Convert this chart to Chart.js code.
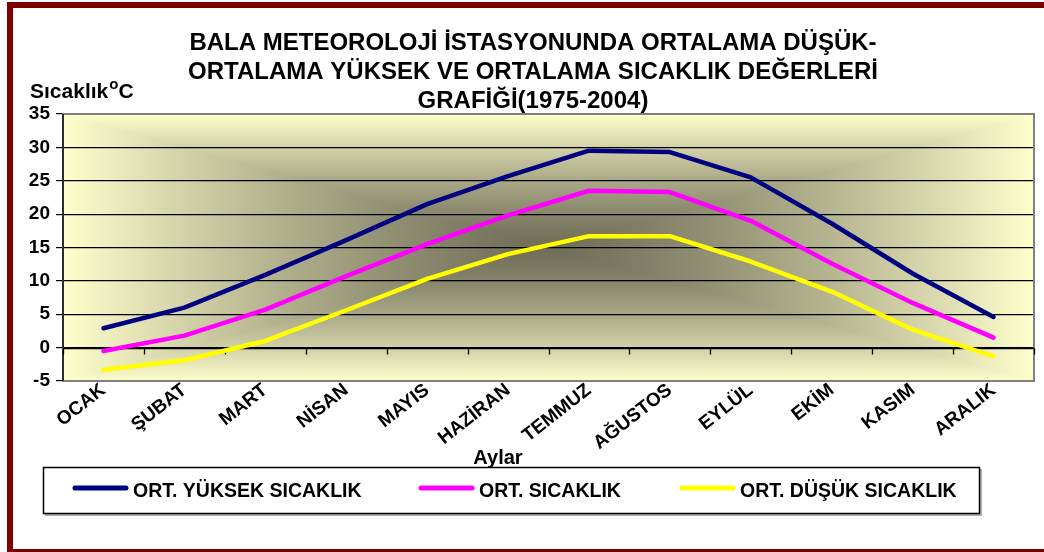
<!DOCTYPE html>
<html lang="tr">
<head>
<meta charset="utf-8">
<title>Bala Meteoroloji İstasyonu Sıcaklık Grafiği</title>
<script src="https://cdn.jsdelivr.net/npm/chart.js@4.4.0/dist/chart.umd.min.js"></script>
<style>
    body { margin: 0; background: #fff; }
    #wrap { position: relative; width: 1044px; height: 552px; overflow: hidden; background: #fff; }
    #frame { position: absolute; left: 7px; top: 2px; width: 1060px; height: 541px; border: 6px solid #800000; pointer-events: none; }
    canvas { position: absolute; left: 0; top: 0; }
</style>
</head>
<body>
<div id="wrap">
    <canvas id="tempChart" width="1044" height="552"></canvas>
    <div id="frame"></div>
</div>
<script>
// Months (x axis)
const months = ['OCAK', 'ŞUBAT', 'MART', 'NİSAN', 'MAYIS', 'HAZİRAN', 'TEMMUZ', 'AĞUSTOS', 'EYLÜL', 'EKİM', 'KASIM', 'ARALIK'];

// Monthly temperatures, °C
const avgHigh = [2.9, 6.0, 10.9, 16.1, 21.5, 25.7, 29.5, 29.3, 25.5, 18.6, 11.1, 4.6];
const avgTemp = [-0.5, 1.8, 5.7, 10.7, 15.5, 19.8, 23.5, 23.3, 19.0, 12.6, 6.7, 1.5];
const avgLow = [-3.3, -1.9, 1.0, 5.6, 10.3, 14.0, 16.7, 16.7, 12.9, 8.4, 2.7, -1.3];

const seriesNames = ['ORT. YÜKSEK SICAKLIK', 'ORT. SICAKLIK', 'ORT. DÜŞÜK SICAKLIK'];
const seriesColors = ['#000080', '#FF00FF', '#FFFF00'];

// Y axis
const yMin = -5;
const yMax = 35;
const yStep = 5;

const titleLines = [
    'BALA METEOROLOJİ İSTASYONUNDA ORTALAMA DÜŞÜK-',
    'ORTALAMA YÜKSEK VE ORTALAMA SICAKLIK DEĞERLERİ',
    'GRAFİĞİ(1975-2004)'
];
const yTitle = 'Sıcaklık';
const xTitle = 'Aylar';

const FONT = '"Liberation Sans", Arial, sans-serif';

// Excel style "from center" gradient behind the plot
const plotBackground = {
    id: 'plotBackground',
    beforeDraw(chart) {
        const { ctx, chartArea: a } = chart;
        const w = Math.round(a.right - a.left);
        const h = Math.round(a.bottom - a.top);
        const off = document.createElement('canvas');
        off.width = w;
        off.height = h;
        const octx = off.getContext('2d');
        const img = octx.createImageData(w, h);
        const dark = [112, 110, 88];
        const light = [255, 255, 204];
        for (let y = 0; y < h; y++) {
            for (let x = 0; x < w; x++) {
                const d = Math.max(Math.abs(x - w / 2) / (w / 2), Math.abs(y - h / 2) / (h / 2));
                const t = Math.pow(d, 1.3);
                const i = (y * w + x) * 4;
                for (let c = 0; c < 3; c++) {
                    img.data[i + c] = dark[c] + (light[c] - dark[c]) * t;
                }
                img.data[i + 3] = 255;
            }
        }
        octx.putImageData(img, 0, 0);
        ctx.drawImage(off, a.left, a.top);
    }
};

// Plot border, zero line with its tick marks
const plotFrame = {
    id: 'plotFrame',
    beforeDatasetsDraw(chart) {
        const { ctx, chartArea: a, scales: { x, y } } = chart;
        ctx.save();
        ctx.strokeStyle = '#808080';
        ctx.lineWidth = 2;
        ctx.strokeRect(a.left, a.top, a.right - a.left, a.bottom - a.top);

        const y0 = Math.round(y.getPixelForValue(0)) + 0.5;
        ctx.strokeStyle = '#000';
        ctx.lineWidth = 1.3;
        ctx.beginPath();
        ctx.moveTo(a.left, y0);
        ctx.lineTo(a.right, y0);
        for (let i = 0; i <= months.length; i++) {
            const px = Math.round(x.getPixelForValue(i - 0.5)) + 0.5;
            ctx.moveTo(px, y0);
            ctx.lineTo(px, y0 + 6);
        }
        ctx.moveTo(a.left, a.top);
        ctx.lineTo(a.left, a.bottom);
        ctx.stroke();
        ctx.restore();
    }
};

// Title, axis titles and the boxed legend
const chartTexts = {
    id: 'chartTexts',
    afterDraw(chart) {
        const { ctx } = chart;
        ctx.save();
        ctx.fillStyle = '#000';
        ctx.textBaseline = 'alphabetic';

        // title
        ctx.font = 'bold 24px ' + FONT;
        ctx.textAlign = 'center';
        titleLines.forEach((line, i) => ctx.fillText(line, 533, 50 + i * 29));

        // y title with superscript degree sign
        ctx.textAlign = 'left';
        ctx.font = 'bold 21px ' + FONT;
        ctx.fillText(yTitle, 30, 98);
        let tx = 30 + ctx.measureText(yTitle).width + 1;
        ctx.font = 'bold 15px ' + FONT;
        ctx.fillText('o', tx, 89);
        tx += ctx.measureText('o').width;
        ctx.font = 'bold 21px ' + FONT;
        ctx.fillText('C', tx, 98);

        // x title
        ctx.textAlign = 'center';
        ctx.font = 'bold 20px ' + FONT;
        ctx.fillText(xTitle, 498, 464);

        // legend box
        ctx.fillStyle = '#b0b0b0';
        ctx.fillRect(45, 514, 937, 2);
        ctx.fillRect(980, 469, 2, 47);
        ctx.strokeStyle = '#000';
        ctx.lineWidth = 1.5;
        ctx.fillStyle = '#fff';
        ctx.fillRect(43.5, 467.5, 936, 46);
        ctx.strokeRect(43.5, 467.5, 936, 46);

        const itemX = [73, 419, 680];
        ctx.textAlign = 'left';
        ctx.font = 'bold 19.5px ' + FONT;
        chart.data.datasets.forEach((ds, i) => {
            ctx.strokeStyle = ds.borderColor;
            ctx.lineWidth = 5;
            ctx.lineCap = 'round';
            ctx.beginPath();
            ctx.moveTo(itemX[i] + 2, 488);
            ctx.lineTo(itemX[i] + 53, 488);
            ctx.stroke();
            ctx.fillStyle = '#000';
            ctx.fillText(ds.label, itemX[i] + 60, 497);
        });
        ctx.restore();
    }
};

const datasets = [avgHigh, avgTemp, avgLow].map((values, i) => ({
    label: seriesNames[i],
    data: values,
    borderColor: seriesColors[i],
    backgroundColor: seriesColors[i],
    borderWidth: 4.5,
    borderCapStyle: 'round',
    borderJoinStyle: 'round',
    pointRadius: 0,
    tension: 0,
    fill: false
}));

new Chart(document.getElementById('tempChart'), {
    type: 'line',
    data: { labels: months, datasets: datasets },
    plugins: [plotBackground, plotFrame, chartTexts],
    options: {
        responsive: false,
        animation: false,
        devicePixelRatio: 1,
        layout: { padding: { left: 0, top: 114, right: 10, bottom: 81 } },
        plugins: {
            legend: { display: false },
            title: { display: false },
            tooltip: { enabled: false }
        },
        scales: {
            x: {
                type: 'category',
                offset: true,
                afterFit: (scale) => { scale.height = 90; },
                grid: { display: false },
                border: { display: false },
                ticks: {
                    color: '#000',
                    font: { family: FONT, size: 19, weight: 'bold' },
                    minRotation: 38,
                    maxRotation: 38,
                    autoSkip: false,
                    padding: -10
                }
            },
            y: {
                min: yMin,
                max: yMax,
                afterFit: (scale) => { scale.width = 63; },
                border: { display: false },
                grid: {
                    color: (c) => (c.tick && (c.tick.value === yMax || c.tick.value === yMin)) ? '#808080' : '#000',
                    tickColor: '#000',
                    lineWidth: 1.2,
                    tickLength: 7
                },
                ticks: {
                    stepSize: yStep,
                    color: '#000',
                    padding: 6,
                    font: { family: FONT, size: 19, weight: 'bold' }
                }
            }
        }
    }
});
</script>
</body>
</html>
